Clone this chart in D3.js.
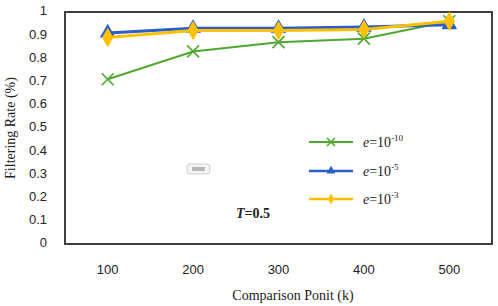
<!DOCTYPE html>
<html>
<head>
<meta charset="utf-8">
<script src="https://cdn.jsdelivr.net/npm/d3@7.8.5/dist/d3.min.js"></script>
<style>
  body { margin: 0; background: #fff; }
  svg { display: block; }
</style>
</head>
<body>
<div id="chart"></div>
<script>
const categories = ["100", "200", "300", "400", "500"];
const yTicks = [0, 0.1, 0.2, 0.3, 0.4, 0.5, 0.6, 0.7, 0.8, 0.9, 1];
const e10 = [0.71, 0.83, 0.87, 0.885, 0.96];
const e5 = [0.91, 0.93, 0.93, 0.935, 0.945];
const e3 = [0.89, 0.92, 0.92, 0.925, 0.96];

const series = [
  { name: "-10", values: e10, color: "#4ea72e", marker: "x" },
  { name: "-5", values: e5, color: "#2a5fc8", marker: "tri" },
  { name: "-3", values: e3, color: "#ffc000", marker: "diamond" },
];

const W = 498, H = 306;
const M = { left: 65, right: 6, top: 12, bottom: 62 };

const svg = d3.select("#chart").append("svg")
  .attr("width", W).attr("height", H);

const x = d3.scaleBand().domain(categories)
  .range([M.left, W - M.right]);
const y = d3.scaleLinear().domain([0, 1])
  .range([H - M.bottom, M.top]);

// plot frame
svg.append("rect")
  .attr("x", M.left).attr("y", M.top)
  .attr("width", W - M.left - M.right)
  .attr("height", H - M.top - M.bottom)
  .attr("fill", "none").attr("stroke", "#404040").attr("stroke-width", 2);

// y tick labels
svg.append("g").selectAll("text").data(yTicks).join("text")
  .attr("x", 47).attr("y", d => y(d))
  .attr("text-anchor", "end").attr("dominant-baseline", "middle")
  .style("font-family", "Liberation Sans, Arial, sans-serif")
  .style("font-size", "13px").style("fill", "#222")
  .text(d => d);

// x tick labels
svg.append("g").selectAll("text").data(categories).join("text")
  .attr("x", d => x(d) + x.bandwidth() / 2).attr("y", 274)
  .attr("text-anchor", "middle")
  .style("font-family", "Liberation Sans, Arial, sans-serif")
  .style("font-size", "13px").style("fill", "#222")
  .text(d => d);

// axis titles
svg.append("text")
  .attr("x", 293).attr("y", 300)
  .attr("text-anchor", "middle")
  .style("font-family", "Liberation Serif, Times New Roman, serif")
  .style("font-size", "14px").style("fill", "#222")
  .text("Comparison Ponit (k)");

svg.append("text")
  .attr("transform", `translate(12,${(M.top + H - M.bottom) / 2}) rotate(-90)`)
  .attr("text-anchor", "middle").attr("dominant-baseline", "middle")
  .style("font-family", "Liberation Serif, Times New Roman, serif")
  .style("font-size", "14px").style("fill", "#222")
  .text("Filtering Rate (%)");

const cx = d => x(d) + x.bandwidth() / 2;
const line = d3.line().x(d => cx(d.c)).y(d => y(d.v));

function drawMarker(g, type, color, size) {
  if (type === "x") {
    const s = size;
    g.append("path")
      .attr("d", `M${-s},${-s}L${s},${s}M${-s},${s}L${s},${-s}`)
      .attr("stroke", color).attr("stroke-width", 1.6).attr("fill", "none");
  } else if (type === "tri") {
    g.append("path")
      .attr("d", d3.symbol(d3.symbolTriangle, size * size * 2.2)())
      .attr("fill", color);
  } else {
    g.append("path")
      .attr("d", d3.symbol(d3.symbolDiamond, size * size * 2.2)())
      .attr("fill", color);
  }
}

series.forEach(s => {
  const pts = s.values.map((v, i) => ({ c: categories[i], v }));
  svg.append("path").datum(pts)
    .attr("d", line).attr("fill", "none")
    .attr("stroke", s.color).attr("stroke-width", s.marker === "x" ? 2 : 3);
  pts.forEach(p => {
    const g = svg.append("g").attr("transform", `translate(${cx(p.c)},${y(p.v)})`);
    drawMarker(g, s.marker, s.color, s.marker === "x" ? 6 : 7);
  });
});

// legend
const legY = [142, 171, 199];
series.forEach((s, i) => {
  const g = svg.append("g").attr("transform", `translate(309,${legY[i]})`);
  g.append("line").attr("x1", 0).attr("x2", 44)
    .attr("stroke", s.color).attr("stroke-width", s.marker === "x" ? 2 : 2.5);
  const m = g.append("g").attr("transform", "translate(22,0)");
  drawMarker(m, s.marker, s.color, 4);
  const t = g.append("text").attr("x", 54).attr("y", 5)
    .style("font-family", "Liberation Serif, Times New Roman, serif")
    .style("font-size", "14px").style("fill", "#222");
  t.append("tspan").style("font-style", "italic").text("e");
  t.append("tspan").text("=10");
  t.append("tspan").attr("dy", -6).style("font-size", "9px").text(s.name);
});

// small placeholder icon
svg.append("rect")
  .attr("x", 187).attr("y", 164).attr("width", 23).attr("height", 10)
  .attr("rx", 3).attr("fill", "#f4f4f4").attr("stroke", "#d0d0d0");
svg.append("rect")
  .attr("x", 192).attr("y", 167).attr("width", 13).attr("height", 4)
  .attr("fill", "#b8b8b8");

// T=0.5 annotation
const ta = svg.append("text").attr("x", 236).attr("y", 218)
  .style("font-family", "Liberation Serif, Times New Roman, serif")
  .style("font-size", "14px").style("font-weight", "bold").style("fill", "#222");
ta.append("tspan").style("font-style", "italic").text("T");
ta.append("tspan").text("=0.5");
</script>
</body>
</html>
